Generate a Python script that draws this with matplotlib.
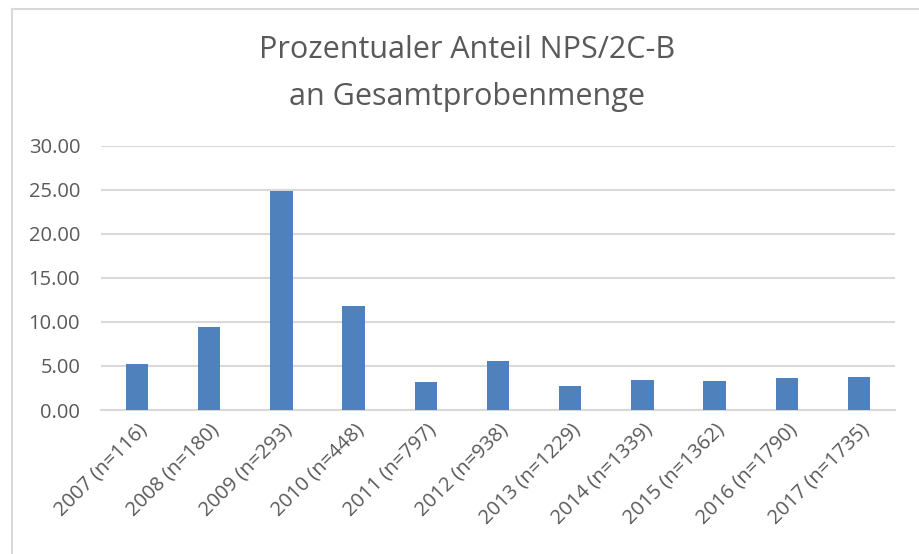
import numpy as np
import matplotlib.pyplot as plt
from matplotlib.lines import Line2D

# Daten
jahre = ['2007', '2008', '2009', '2010', '2011', '2012', '2013', '2014', '2015', '2016', '2017']
n_proben = [116, 180, 293, 448, 797, 938, 1229, 1339, 1362, 1790, 1735]
anteil = [5.17, 9.44, 24.91, 11.83, 3.14, 5.54, 2.77, 3.36, 3.30, 3.58, 3.69]

labels = ['{} (n={})'.format(j, n) for j, n in zip(jahre, n_proben)]

plt.rcParams['font.family'] = ['Open Sans', 'DejaVu Sans']
grau = '#595959'

fig = plt.figure(figsize=(9.19, 5.54), dpi=100)
ax = fig.add_axes([101 / 919, 1 - 410 / 554, 794 / 919, (410 - 145.7) / 554])

x = np.arange(len(labels))
ax.bar(x, anteil, width=0.31, color='#4F81BD', zorder=3)

ax.set_xlim(-0.5, len(labels) - 0.5)
ax.set_ylim(0, 30)
ax.set_yticks(np.arange(0, 31, 5))
ax.set_yticklabels(['{:.2f}'.format(v) for v in np.arange(0, 31, 5)])
ax.set_xticks(x)
ax.set_xticklabels(labels, rotation=45, ha='right', rotation_mode='anchor')

ax.grid(axis='y', color='#d9d9d9', linewidth=1.5, zorder=0)
for s in ['top', 'right', 'left']:
    ax.spines[s].set_visible(False)
ax.spines['bottom'].set_color('#d9d9d9')
ax.spines['bottom'].set_linewidth(1.5)
ax.tick_params(axis='both', length=0, colors=grau, labelsize=14.5)
ax.tick_params(axis='y', pad=15)
ax.tick_params(axis='x', pad=7)

fig.text(0.508, 1 - 50 / 554, 'Prozentualer Anteil NPS/2C-B', ha='center', va='center',
         fontsize=22, color=grau)
fig.text(0.508, 1 - 97 / 554, 'an Gesamtprobenmenge', ha='center', va='center',
         fontsize=22, color=grau)

# Rahmen oben und links
fig.add_artist(Line2D([11.5 / 919, 1], [1 - 8.5 / 554, 1 - 8.5 / 554], color='#d9d9d9', lw=1.5))
fig.add_artist(Line2D([11.5 / 919, 11.5 / 919], [0, 1 - 8.5 / 554], color='#d9d9d9', lw=1.5))

fig.savefig('out.png', dpi=100)
